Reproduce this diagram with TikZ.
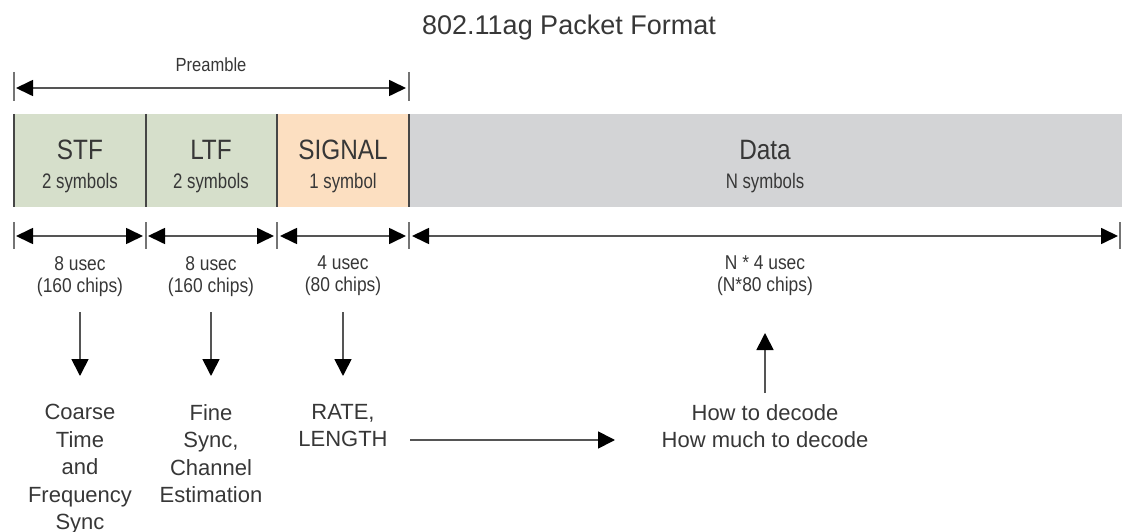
\documentclass[tikz,border=0pt]{standalone}
\usepackage{fontspec}
\setmainfont{Liberation Sans}
\newfontfamily\narrowfont[FakeStretch=0.87]{Liberation Sans}
\newfontfamily\slimfont[FakeStretch=0.8]{Liberation Sans}
\usetikzlibrary{arrows.meta}
\definecolor{ink}{RGB}{55,55,55}
\definecolor{rule}{RGB}{70,70,70}
\definecolor{shaft}{RGB}{85,85,85}
\definecolor{trainfill}{RGB}{214,223,203}
\definecolor{sigfill}{RGB}{252,223,193}
\definecolor{datafill}{RGB}{211,212,214}
\begin{document}
\begin{tikzpicture}[x=1pt,y=-1pt,
  every node/.style={text=ink, inner sep=0pt},
  field/.style={anchor=north west, minimum height=93pt, draw=none},
  divider/.style={draw=rule, line width=1.8pt},
  tick/.style={draw=rule!75, line width=1.8pt},
  head/.style={Triangle[length=17pt,width=16pt, fill=black, color=black]},
  span/.style={draw=shaft, line width=1.7pt, {Triangle[length=17pt,width=16pt,color=black]}-{Triangle[length=17pt,width=16pt,color=black]}},
  flow/.style={draw=shaft, line width=1.7pt, -{Triangle[length=17pt,width=17pt,color=black]}},
  bigname/.style={anchor=base, font=\narrowfont\fontsize{28}{30}\selectfont},
  smallname/.style={anchor=base, font=\slimfont\fontsize{21}{23}\selectfont},
  dur/.style={anchor=north, font=\narrowfont\fontsize{20}{22}\selectfont, align=center},
  note/.style={anchor=north, font=\fontsize{22}{27.5}\selectfont, align=center}]
\useasboundingbox (0,0) rectangle (1122,532);

% title
\node[anchor=base, font=\fontsize{27}{29}\selectfont] (title) at (569,35) {802.11ag Packet Format};

% preamble span
\node[anchor=base, font=\narrowfont\fontsize{19}{21}\selectfont] (pre) at (211,72) {Preamble};
\draw[tick] (14,72) -- (14,101);
\draw[tick] (409,72) -- (409,101);
\coordinate (preL) at (16,88);
\coordinate (preR) at (406,88);
\draw[span] (preL) -- (preR);

% packet fields
\node[field, fill=trainfill, minimum width=132pt] (stf) at (14,114) {};
\node[field, fill=trainfill, minimum width=131pt] (ltf) at (146,114) {};
\node[field, fill=sigfill, minimum width=132pt] (sig) at (277,114) {};
\node[field, fill=datafill, minimum width=713pt] (data) at (409,114) {};
\foreach \x in {14,146,277,409} \draw[divider] (\x,114) -- (\x,207);

\node[bigname] (stfn) at (80,160) {STF};
\node[smallname] (stfs) at (80,188) {2 symbols};
\node[bigname] (ltfn) at (211,160) {LTF};
\node[smallname] (ltfs) at (211,188) {2 symbols};
\node[bigname] (sign) at (343,160) {SIGNAL};
\node[smallname] (sigs) at (343,188) {1 symbol};
\node[bigname] (datan) at (765,160) {Data};
\node[smallname] (datas) at (765,188) {N symbols};

% duration spans
\foreach \x in {14,146,277,409,1120} \draw[tick] (\x,222) -- (\x,249);
\coordinate (a1) at (16,236);  \coordinate (b1) at (143,236);
\coordinate (a2) at (148,236); \coordinate (b2) at (274,236);
\coordinate (a3) at (280,236); \coordinate (b3) at (406,236);
\coordinate (a4) at (412,236); \coordinate (b4) at (1118,236);
\draw[span] (a1) -- (b1);
\draw[span] (a2) -- (b2);
\draw[span] (a3) -- (b3);
\draw[span] (a4) -- (b4);

\node[dur] (d1) at (80,256) {8 usec\\(160 chips)};
\node[dur] (d2) at (211,256) {8 usec\\(160 chips)};
\node[dur] (d3) at (343,256) {4 usec\\(80 chips)};
\node[dur] (d4) at (765,256) {N * 4 usec\\(N*80 chips)};

% what each part is used for
\node[note] (u1) at (80,404) {Coarse\\Time\\and\\Frequency\\Sync};
\node[note] (u2) at (211,404) {Fine\\Sync,\\Channel\\Estimation};
\node[note] (u3) at (343,404) {RATE,\\LENGTH};
\node[note] (u4) at (765,404) {How to decode\\How much to decode};

\coordinate (s1) at (80,312);  \coordinate (t1) at (80,376);
\coordinate (s2) at (211,312); \coordinate (t2) at (211,376);
\coordinate (s3) at (343,312); \coordinate (t3) at (343,376);
\coordinate (s4) at (765,393); \coordinate (t4) at (765,333);
\draw[flow] (s1) -- (t1);
\draw[flow] (s2) -- (t2);
\draw[flow] (s3) -- (t3);
\draw[flow] (s4) -- (t4);
\coordinate (rl) at (410,440);
\coordinate (rr) at (615,440);
\draw[flow] (rl) -- (rr);
\end{tikzpicture}
\end{document}
